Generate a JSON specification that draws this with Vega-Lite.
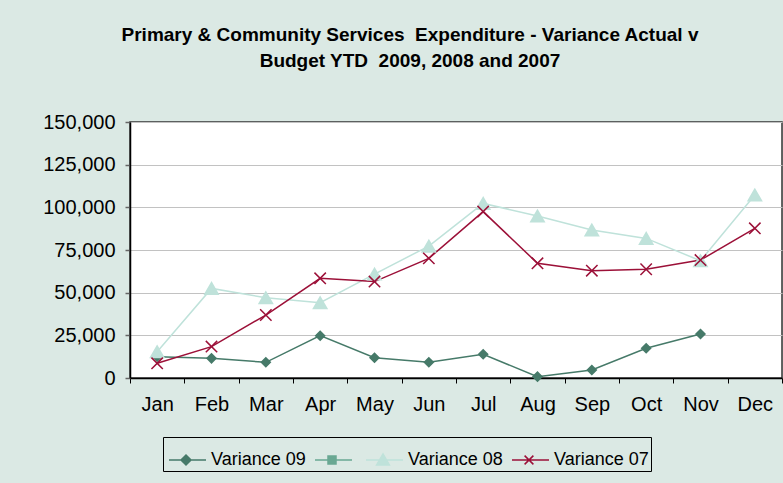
{
  "$schema": "https://vega.github.io/schema/vega-lite/v6.json",
  "width": 652,
  "height": 256,
  "autosize": {"type": "none"},
  "padding": {"left": 130, "top": 122, "right": 1, "bottom": 105},
  "background": "#dbe9e4",
  "title": {
    "text": ["Primary & Community Services \u00a0Expenditure - Variance Actual v", "Budget YTD \u00a02009, 2008 and 2007"],
    "font": "Liberation Sans",
    "fontSize": 19,
    "fontWeight": "bold",
    "color": "#000000",
    "anchor": "middle",
    "dx": -46,
    "offset": 41,
    "lineHeight": 26
  },
  "data": {
    "values": [
      {"month": "Jan", "series": "Variance 09", "value": 12500},
      {"month": "Feb", "series": "Variance 09", "value": 11500},
      {"month": "Mar", "series": "Variance 09", "value": 9200},
      {"month": "Apr", "series": "Variance 09", "value": 24800},
      {"month": "May", "series": "Variance 09", "value": 11900},
      {"month": "Jun", "series": "Variance 09", "value": 9200},
      {"month": "Jul", "series": "Variance 09", "value": 13900},
      {"month": "Aug", "series": "Variance 09", "value": 800},
      {"month": "Sep", "series": "Variance 09", "value": 4700},
      {"month": "Oct", "series": "Variance 09", "value": 17400},
      {"month": "Nov", "series": "Variance 09", "value": 25800},
      {"month": "Jan", "series": "Variance 08", "value": 15400},
      {"month": "Feb", "series": "Variance 08", "value": 52500},
      {"month": "Mar", "series": "Variance 08", "value": 47000},
      {"month": "Apr", "series": "Variance 08", "value": 44100},
      {"month": "May", "series": "Variance 08", "value": 60900},
      {"month": "Jun", "series": "Variance 08", "value": 77300},
      {"month": "Jul", "series": "Variance 08", "value": 102300},
      {"month": "Aug", "series": "Variance 08", "value": 94900},
      {"month": "Sep", "series": "Variance 08", "value": 86700},
      {"month": "Oct", "series": "Variance 08", "value": 81800},
      {"month": "Nov", "series": "Variance 08", "value": 68700},
      {"month": "Dec", "series": "Variance 08", "value": 107200},
      {"month": "Jan", "series": "Variance 07", "value": 8600},
      {"month": "Feb", "series": "Variance 07", "value": 18400},
      {"month": "Mar", "series": "Variance 07", "value": 36900},
      {"month": "Apr", "series": "Variance 07", "value": 58400},
      {"month": "May", "series": "Variance 07", "value": 56500},
      {"month": "Jun", "series": "Variance 07", "value": 70100},
      {"month": "Jul", "series": "Variance 07", "value": 97500},
      {"month": "Aug", "series": "Variance 07", "value": 67200},
      {"month": "Sep", "series": "Variance 07", "value": 62900},
      {"month": "Oct", "series": "Variance 07", "value": 63700},
      {"month": "Nov", "series": "Variance 07", "value": 69100},
      {"month": "Dec", "series": "Variance 07", "value": 87700}
    ]
  },
  "encoding": {
    "x": {
      "field": "month",
      "type": "nominal",
      "sort": ["Jan", "Feb", "Mar", "Apr", "May", "Jun", "Jul", "Aug", "Sep", "Oct", "Nov", "Dec"],
      "scale": {"type": "band", "paddingInner": 0, "paddingOuter": 0},
      "axis": {
        "title": null,
        "tickBand": "extent",
        "labelAngle": 0,
        "domainColor": "#000000",
        "domainWidth": 1.5,
        "tickColor": "#000000",
        "tickWidth": 1,
        "tickSize": 5,
        "labelPadding": 11,
        "labelFontSize": 20,
        "labelFont": "Liberation Sans",
        "labelColor": "#000000",
        "grid": false
      }
    },
    "y": {
      "field": "value",
      "type": "quantitative",
      "scale": {"domain": [0, 150000], "nice": false},
      "axis": {
        "title": null,
        "values": [0, 25000, 50000, 75000, 100000, 125000, 150000],
        "format": ",d",
        "domainColor": "#000000",
        "domainWidth": 1.5,
        "tickColor": "#666666",
        "tickSize": 5,
        "tickWidth": 1.5,
        "labelPadding": 10,
        "labelFontSize": 20,
        "labelFont": "Liberation Sans",
        "labelColor": "#000000",
        "gridColor": "#c2c2c2",
        "gridWidth": 1
      }
    },
    "color": {
      "field": "series",
      "type": "nominal",
      "scale": {
        "domain": ["Variance 09", " ", "Variance 08", "Variance 07"],
        "range": ["#467a69", "#69a893", "#bfe2da", "#9c1038"]
      },
      "legend": {
        "title": null,
        "orient": "none",
        "legendX": 33,
        "legendY": 315,
        "direction": "horizontal",
        "strokeColor": "#000000",
        "padding": 2,
        "labelFont": "Liberation Sans",
        "labelFontSize": 18,
        "labelColor": "#000000",
        "labelOffset": 4,
        "columnPadding": 5,
        "symbolSize": 1600,
        "symbolStrokeWidth": 1.5,
        "encode": {
          "symbols": {
            "update": {
              "shape": {"signal": "datum.value === 'Variance 09' ? 'M-0.85,0H1M0,-0.25L0.25,0L0,0.25L-0.25,0Z' : datum.value === 'Variance 08' ? 'M-0.85,0H1M0,-0.3L0.32,0.25H-0.32Z' : datum.value === 'Variance 07' ? 'M-0.85,0H1M-0.22,-0.22L0.22,0.22M-0.22,0.22L0.22,-0.22' : 'M-0.85,0H1M-0.2,-0.2H0.2V0.2H-0.2Z'"},
              "fill": {"signal": "datum.value === 'Variance 09' ? '#467a69' : datum.value === 'Variance 08' ? '#bfe2da' : datum.value === 'Variance 07' ? '#9c1038' : '#69a893'"},
              "stroke": {"signal": "datum.value === 'Variance 09' ? '#467a69' : datum.value === 'Variance 08' ? '#bfe2da' : datum.value === 'Variance 07' ? '#9c1038' : '#69a893'"},
              "size": {"value": 1600},
              "strokeWidth": {"value": 1.5}
            }
          }
        }
      }
    }
  },
  "layer": [
    {
      "mark": {"type": "line", "strokeWidth": 1.5}
    },
    {
      "transform": [{"filter": "datum.series === 'Variance 09'"}],
      "mark": {"type": "point", "filled": true, "opacity": 1, "shape": "diamond", "size": 80, "stroke": "#467a69", "strokeWidth": 1.5}
    },
    {
      "transform": [{"filter": "datum.series === 'Variance 08'"}],
      "mark": {"type": "point", "filled": true, "opacity": 1, "shape": "triangle-up", "size": 180, "stroke": "#bfe2da", "strokeWidth": 1.5}
    },
    {
      "transform": [{"filter": "datum.series === 'Variance 07'"}],
      "mark": {"type": "point", "filled": true, "opacity": 1, "shape": "M-1,-1L1,1M-1,1L1,-1", "size": 130, "stroke": "#9c1038", "strokeWidth": 1.5}
    }
  ],
  "config": {
    "view": {"fill": "#ffffff", "stroke": "#333333", "strokeWidth": 1.5}
  }
}
